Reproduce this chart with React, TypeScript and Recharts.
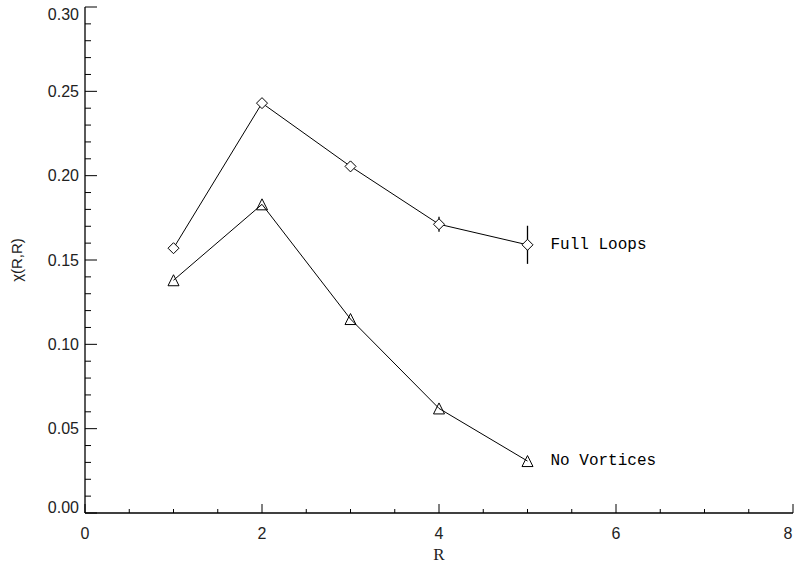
import {
  ComposedChart,
  ErrorBar,
  Line,
  XAxis,
  YAxis,
} from "recharts";

const radius = [1, 2, 3, 4, 5];
const fullLoops = [0.157, 0.243, 0.2055, 0.1712, 0.159];
const fullLoopsErr = [0, 0.002, 0.003, 0.0045, 0.0113];
const noVortices = [0.138, 0.183, 0.115, 0.062, 0.0308];

const xTicks = Array.from({ length: 17 }, (_, i) => i * 0.5);
const yTicks = Array.from({ length: 31 }, (_, i) => i / 100);

const data = radius.map((r, i) => ({
  r,
  full: fullLoops[i],
  fullErr: fullLoopsErr[i],
  none: noVortices[i],
}));

const tickFont = { fontFamily: "Liberation Sans, sans-serif", fontSize: 16, fill: "#222" };

const isMajorY = (v: number) => Math.round(v * 100) % 5 === 0;
const isMajorX = (v: number) => Math.round(v * 2) % 4 === 0;

const LeftTick = (props: any) => {
  const { x, y, payload } = props;
  const v = payload.value;
  const major = isMajorY(v);
  const shift = v === 0 ? -6 : Math.round(v * 100) === 30 ? 7 : 0;
  return (
    <g>
      <line x1={x} x2={x + (major ? 12 : 6)} y1={y} y2={y} stroke="#000" />
      {major && (
        <text x={x - 6} y={y + shift} dy={5.5} textAnchor="end" {...tickFont}>
          {v.toFixed(2)}
        </text>
      )}
    </g>
  );
};

const RightTick = (props: any) => {
  const { x, y, payload } = props;
  const major = isMajorY(payload.value);
  return <line x1={x} x2={x - (major ? 12 : 6)} y1={y} y2={y} stroke="#000" />;
};

const BottomTick = (props: any) => {
  const { x, y, payload } = props;
  const v = payload.value;
  const major = isMajorX(v);
  // keep the last label inside the page
  const tx = Math.min(x, 788);
  return (
    <g>
      <line x1={x} x2={x} y1={y} y2={y - (major ? 9 : 4)} stroke="#000" />
      {major && (
        <text x={tx} y={y + 26} textAnchor="middle" {...tickFont}>
          {v}
        </text>
      )}
    </g>
  );
};

const TopTick = (props: any) => {
  const { x, y, payload } = props;
  const major = isMajorX(payload.value);
  return <line x1={x} x2={x} y1={y} y2={y + (major ? 9 : 4)} stroke="#000" />;
};

const Diamond = (props: any) => {
  const { cx, cy } = props;
  if (cx == null || cy == null) return null;
  const s = 5.5;
  return (
    <path
      d={`M${cx},${cy - s}L${cx + s},${cy}L${cx},${cy + s}L${cx - s},${cy}Z`}
      fill="#fff"
      stroke="#000"
      strokeWidth={1}
    />
  );
};

const Triangle = (props: any) => {
  const { cx, cy } = props;
  if (cx == null || cy == null) return null;
  const s = 5.5;
  return (
    <path
      d={`M${cx},${cy - s}L${cx + s},${cy + s}L${cx - s},${cy + s}Z`}
      fill="none"
      stroke="#000"
      strokeWidth={1}
    />
  );
};

const endLabel = (text: string) => (props: any) => {
  const { x, y, index } = props;
  if (index !== radius.length - 1) return null;
  return (
    <text
      x={x + 23}
      y={y}
      dy={4}
      fontFamily="Liberation Mono, monospace"
      fontSize={16}
      fill="#000"
    >
      {text}
    </text>
  );
};

export default function App() {
  return (
    <div style={{ position: "absolute", left: 0, top: 0, background: "#fff" }}>
      <ComposedChart
        width={794}
        height={565}
        data={data}
        margin={{ top: 7, right: 1, left: 0, bottom: 0 }}
      >
        <XAxis
          dataKey="r"
          type="number"
          domain={[0, 8]}
          ticks={xTicks}
          interval={0}
          height={52}
          tickSize={0}
          tickMargin={0}
          tickLine={false}
          tick={<BottomTick />}
          axisLine={{ stroke: "#000", strokeWidth: 1.3 }}
          label={{
            value: "R",
            position: "insideBottom",
            offset: 5,
            style: { fontFamily: "Liberation Serif, serif", fontSize: 17, fill: "#222" },
          }}
        />
        <XAxis
          xAxisId="top"
          orientation="top"
          dataKey="r"
          type="number"
          domain={[0, 8]}
          ticks={xTicks}
          interval={0}
          height={0}
          tickSize={0}
          tickMargin={0}
          tickLine={false}
          tick={<TopTick />}
          axisLine={{ stroke: "#000", strokeWidth: 1.3 }}
        />
        <YAxis
          type="number"
          domain={[0, 0.3]}
          ticks={yTicks}
          interval={0}
          width={85}
          tickSize={0}
          tickMargin={0}
          tickLine={false}
          tick={<LeftTick />}
          axisLine={{ stroke: "#000", strokeWidth: 1.3 }}
          label={{
            value: "χ(R,R)",
            angle: -90,
            position: "insideLeft",
            offset: 17,
            style: {
              textAnchor: "middle",
              fontFamily: "Liberation Sans, sans-serif",
              fontSize: 15,
              fill: "#222",
            },
          }}
        />
        <YAxis
          yAxisId="right"
          orientation="right"
          type="number"
          domain={[0, 0.3]}
          ticks={yTicks}
          interval={0}
          width={0}
          tickSize={0}
          tickMargin={0}
          tickLine={false}
          tick={<RightTick />}
          axisLine={{ stroke: "#000", strokeWidth: 1.3 }}
        />
        <Line
          dataKey="full"
          stroke="#000"
          strokeWidth={1}
          dot={<Diamond />}
          activeDot={false}
          isAnimationActive={false}
          label={endLabel("Full Loops")}
        >
          <ErrorBar dataKey="fullErr" width={0} stroke="#000" strokeWidth={1.3} direction="y" />
        </Line>
        <Line
          dataKey="none"
          stroke="#000"
          strokeWidth={1}
          dot={<Triangle />}
          activeDot={false}
          isAnimationActive={false}
          label={endLabel("No Vortices")}
        />
      </ComposedChart>
    </div>
  );
}
